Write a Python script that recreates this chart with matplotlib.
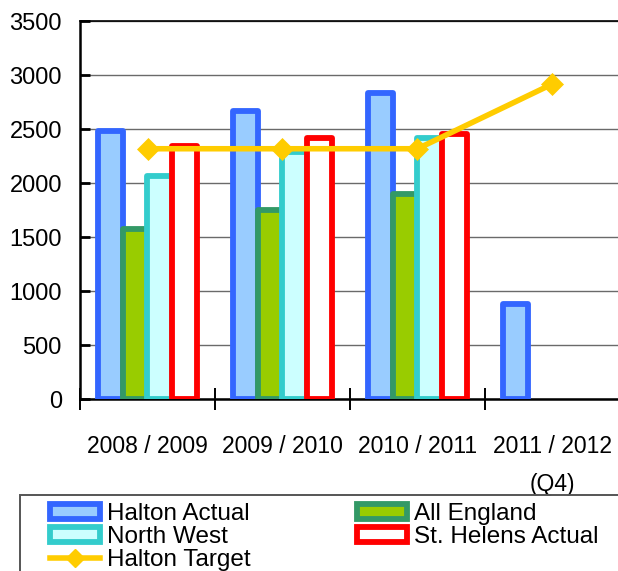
import numpy as np
import matplotlib
matplotlib.use("Agg")
import matplotlib.pyplot as plt
from matplotlib.patches import Patch, Rectangle
from matplotlib.lines import Line2D

plt.rcParams['font.family'] = ['Liberation Sans', 'DejaVu Sans']

periods = ['2008 / 2009', '2009 / 2010', '2010 / 2011', '2011 / 2012\n(Q4)']
halton_actual = [2480, 2670, 2840, 880]
all_england = [1580, 1750, 1900, np.nan]
north_west = [2070, 2290, 2420, np.nan]
st_helens = [2350, 2420, 2460, np.nan]
halton_target = [2320, 2320, 2320, 2920]

series = [
    ('Halton Actual', halton_actual, '#99CCFF', '#3366FF'),
    ('All England', all_england, '#99CC00', '#339966'),
    ('North West', north_west, '#CCFFFF', '#33CCCC'),
    ('St. Helens Actual', st_helens, '#FFFFFF', '#FF0000'),
]
target_color = '#FFCC00'

W, H = 618, 571
fig = plt.figure(figsize=(W / 100, H / 100), dpi=100)
ax = fig.add_axes([80 / W, (H - 399.3) / H, 540 / W, 378 / H])

centers = np.arange(len(periods)) + 0.5
offsets = [-0.272, -0.091, 0.091, 0.272]
bar_w = 0.187

for (name, vals, face, edge), off in zip(series, offsets):
    ax.bar(centers + off, vals, width=bar_w, color=face, edgecolor=edge,
           linewidth=4.2, zorder=3, joinstyle='round')

ax.plot(centers, halton_target, color=target_color, lw=4, marker='D',
        ms=11.5, mec=target_color, mew=0.5, zorder=5)

ax.set_xlim(0, 4)
ax.set_ylim(0, 3500)
ax.set_yticks(np.arange(0, 3501, 500))
ax.yaxis.grid(True, color='#6a6a6a', lw=1.0, zorder=0)
ax.set_axisbelow(True)

ax.set_xticks(centers)
ax.set_xticklabels(periods, linespacing=1.85, va='top')
ax.set_xticks(np.arange(0, 5), minor=True)
ax.tick_params(axis='x', which='major', length=0, pad=25.5, labelsize=16.5)
ax.tick_params(axis='x', which='minor', direction='inout', length=16, width=1.4)
ax.tick_params(axis='y', direction='in', length=7, width=2, pad=13, labelsize=17)

ax.spines['right'].set_visible(False)
ax.spines['top'].set_color('black')
ax.spines['top'].set_linewidth(1.2)
ax.spines['left'].set_linewidth(1.8)
ax.spines['bottom'].set_linewidth(1.8)

# legend box
fig.patches.append(Rectangle((20 / W, -0.05), 1.0, (H - 495) / H + 0.05,
                             transform=fig.transFigure, fill=False,
                             edgecolor='#555555', lw=1.4))

handles = [
    Patch(facecolor='#99CCFF', edgecolor='#3366FF', lw=4.2, label='Halton Actual'),
    Patch(facecolor='#CCFFFF', edgecolor='#33CCCC', lw=4.2, label='North West'),
    Line2D([], [], color=target_color, lw=4, marker='D', ms=9, mec=target_color,
           label='Halton Target'),
    Patch(facecolor='#99CC00', edgecolor='#339966', lw=4.2, label='All England'),
    Patch(facecolor='#FFFFFF', edgecolor='#FF0000', lw=4.2, label='St. Helens Actual'),
]
fig.legend(handles=handles, loc='upper left',
           bbox_to_anchor=(50 / W, (H - 503) / H), ncol=2, frameon=False,
           fontsize=17.5, borderpad=0, borderaxespad=0, labelspacing=0.05,
           handlelength=2.05, handleheight=0.6, handletextpad=0.3,
           columnspacing=4.36)

fig.savefig('out.png', dpi=100)
